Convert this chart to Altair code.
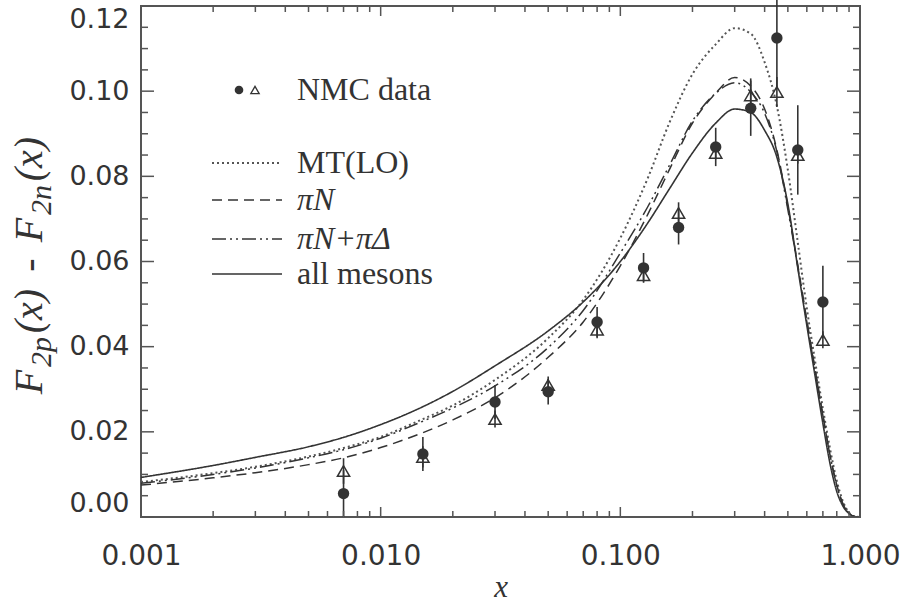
import altair as alt
import pandas as pd

# plot area size in pixels
W, H = 719, 511

# ---- model curves: F2p - F2n versus Bjorken x ----
curve_x = [0.001, 0.002, 0.003, 0.005, 0.007, 0.01, 0.015, 0.02, 0.03, 0.05,
           0.07, 0.1, 0.13, 0.16, 0.2, 0.25, 0.3, 0.35, 0.4, 0.45, 0.5, 0.55,
           0.6, 0.65, 0.7, 0.75, 0.8, 0.85, 0.9, 0.95, 1.0]
mt_lo = [0.0082, 0.0103, 0.0118, 0.0142, 0.0162, 0.0188, 0.0230, 0.0262, 0.0322,
         0.0420, 0.0510, 0.0655, 0.0795, 0.0925, 0.1040, 0.1110, 0.1148, 0.1135,
         0.1068, 0.0965, 0.0815, 0.0645, 0.0490, 0.0365, 0.0255, 0.0160, 0.0085,
         0.0036, 0.0010, 0.0001, 0.0]
pi_n = [0.0075, 0.0092, 0.0104, 0.0123, 0.0139, 0.0163, 0.0198, 0.0228, 0.0280,
        0.0375, 0.0458, 0.0590, 0.0710, 0.0815, 0.0925, 0.0995, 0.1032, 0.1012,
        0.0958, 0.0862, 0.0728, 0.0592, 0.0462, 0.0346, 0.0240, 0.0145, 0.0075,
        0.0030, 0.0009, 0.0001, 0.0]
pi_n_pi_delta = [0.0079, 0.0100, 0.0115, 0.0139, 0.0158, 0.0185, 0.0225, 0.0256,
                 0.0308, 0.0398, 0.0485, 0.0620, 0.0728, 0.0825, 0.0930, 0.0995,
                 0.1020, 0.0998, 0.0948, 0.0858, 0.0722, 0.0588, 0.0458, 0.0343,
                 0.0238, 0.0144, 0.0074, 0.0030, 0.0009, 0.0001, 0.0]
all_mesons = [0.0093, 0.0121, 0.0140, 0.0165, 0.0187, 0.0217, 0.0259, 0.0295,
              0.0355, 0.0437, 0.0505, 0.0600, 0.0690, 0.0770, 0.0855, 0.0925,
              0.0958, 0.0950, 0.0908, 0.0845, 0.0735, 0.0585, 0.0450, 0.0330,
              0.0220, 0.0125, 0.0060, 0.0025, 0.0008, 0.0001, 0.0]

# ---- NMC measurements (two analyses: circles and triangles) ----
nmc_x = [0.007, 0.015, 0.030, 0.050, 0.080, 0.125, 0.175, 0.25, 0.35, 0.45, 0.55, 0.70]
circle_y = [0.0055, 0.0148, 0.0270, 0.0294, 0.0458, 0.0585, 0.0680, 0.0869,
            0.0960, 0.1125, 0.0862, 0.0505]
circle_err = [0.0055, 0.0040, 0.0040, 0.0030, 0.0035, 0.0035, 0.0040, 0.0045,
              0.0065, 0.0120, 0.0105, 0.0085]
tri_y = [0.0108, 0.0141, 0.0230, 0.0310, 0.0440, 0.0568, 0.0714, 0.0855,
         0.0990, 0.0998, 0.0850, 0.0416]
tri_err = [0.0030, 0.0025, 0.0020, 0.0020, 0.0020, 0.0015, 0.0025, 0.0015,
           0.0040, 0.0035, 0.0020, 0.0020]

# ---- axis tick positions ----
x_major = [0.001, 0.01, 0.1, 1.0]
x_minor = [m * 10.0 ** e for e in (-3, -2, -1) for m in range(2, 10)]
y_major = [0.0, 0.02, 0.04, 0.06, 0.08, 0.10, 0.12]
y_minor = [0.005, 0.010, 0.015, 0.025, 0.030, 0.035, 0.045, 0.050, 0.055,
           0.065, 0.070, 0.075, 0.085, 0.090, 0.095, 0.105, 0.110, 0.115]

legend_labels = ["NMC data", "MT(LO)", "\u03c0N", "\u03c0N+\u03c0\u0394", "all mesons"]

# y-axis title pieces: F_{2p}(x) - F_{2n}(x), subscripts set smaller and lowered
ytitle_pieces = ["F", "2p", "(x)", "-", "F", "2n", "(x)"]

INK = "#333333"
FRAME = "#555555"
SERIF = "Liberation Serif"

xs = alt.Scale(type="log", domain=[0.001, 1.0], nice=False)
ys = alt.Scale(domain=[0.0, 0.12], nice=False, zero=False)

x_axis = alt.Axis(values=x_major, format=".3f", ticks=False, domain=False, grid=False,
                  labelFont="DejaVu Sans", labelFontSize=28, labelColor=INK,
                  labelPadding=25, labelFlush=False, labelOverlap=False,
                  title="x", titleFont=SERIF, titleFontStyle="italic",
                  titleFontWeight="normal", titleFontSize=31, titleColor=INK,
                  titlePadding=2)
y_axis = alt.Axis(values=y_major, format=".2f", ticks=False, domain=False, grid=False,
                  labelFont="DejaVu Sans", labelFontSize=27, labelColor=INK,
                  labelPadding=12, labelFlush=True, labelFlushOffset=0,
                  labelOverlap=False, title="")

X = alt.X("x:Q", scale=xs, axis=x_axis)
Y = alt.Y("y:Q", scale=ys, axis=y_axis)

layers = []

# model curves
curve_styles = [
    (mt_lo, [2, 3], 2.0, "#555555"),
    (pi_n, [10, 6], 1.5, INK),
    (pi_n_pi_delta, [14, 4, 2, 4, 2, 4], 1.5, INK),
    (all_mesons, [1, 0], 1.6, INK),
]
for values, dash, width, color in curve_styles:
    df = pd.DataFrame({"x": curve_x, "y": values})
    layers.append(
        alt.Chart(df).mark_line(strokeDash=dash, strokeWidth=width, color=color,
                                interpolate="monotone", clip=True)
        .encode(x=X, y=Y)
    )

pts = pd.DataFrame({
    "x": nmc_x,
    "cy": circle_y, "clo": [a - b for a, b in zip(circle_y, circle_err)],
    "chi": [a + b for a, b in zip(circle_y, circle_err)],
    "ty": tri_y, "tlo": [a - b for a, b in zip(tri_y, tri_err)],
    "thi": [a + b for a, b in zip(tri_y, tri_err)],
})

# error bars
layers.append(alt.Chart(pts).mark_rule(color=INK, strokeWidth=1.6)
              .encode(x=X, y=alt.Y("tlo:Q", scale=ys, axis=y_axis), y2="thi:Q"))
layers.append(alt.Chart(pts).mark_rule(color=INK, strokeWidth=1.6)
              .encode(x=X, y=alt.Y("clo:Q", scale=ys, axis=y_axis), y2="chi:Q"))
# open triangles, then filled circles on top
layers.append(alt.Chart(pts).mark_point(shape="triangle-up", filled=False, size=150,
                                        color=INK, strokeWidth=1.5, opacity=1)
              .encode(x=X, y=alt.Y("ty:Q", scale=ys, axis=y_axis)))
layers.append(alt.Chart(pts).mark_point(shape="circle", filled=True, size=130,
                                        color=INK, opacity=1)
              .encode(x=X, y=alt.Y("cy:Q", scale=ys, axis=y_axis)))


# inward ticks on all four sides of the frame
def xticks(vals, length):
    df = pd.DataFrame({"x": vals})
    bottom = alt.Chart(df).mark_rule(color=FRAME, strokeWidth=1.5).encode(
        x=X, y=alt.value(H), y2=alt.value(H - length))
    top = alt.Chart(df).mark_rule(color=FRAME, strokeWidth=1.5).encode(
        x=X, y=alt.value(0), y2=alt.value(length))
    return [bottom, top]


def yticks(vals, length):
    df = pd.DataFrame({"y": vals})
    left = alt.Chart(df).mark_rule(color=FRAME, strokeWidth=1.5).encode(
        y=Y, x=alt.value(0), x2=alt.value(length))
    right = alt.Chart(df).mark_rule(color=FRAME, strokeWidth=1.5).encode(
        y=Y, x=alt.value(W), x2=alt.value(W - length))
    return [left, right]


layers += xticks(x_major, 10) + xticks(x_minor, 6)
layers += yticks(y_major, 13) + yticks(y_minor, 7)

# rotated y-axis title built from pieces (position along the axis, size, style, column)
title_layout = [
    (376, 40, "italic", -111),
    (346, 30, "italic", -99),
    (305, 40, "italic", -111),
    (259, 40, "normal", -111),
    (224, 40, "italic", -111),
    (194, 30, "italic", -99),
    (153, 40, "italic", -111),
]
for piece, (py, fs, style, px) in zip(ytitle_pieces, title_layout):
    layers.append(
        alt.Chart(pd.DataFrame({"t": [piece]})).mark_text(
            font=SERIF, fontSize=fs, fontStyle=style, angle=270, align="center",
            baseline="middle", color=INK)
        .encode(x=alt.value(px), y=alt.value(py), text="t:N")
    )

# legend block
LEG_SIZE = 32
text_x = 156
line_x0, line_x1 = 71, 141
rows_y = [84, 157, 194, 233, 268]
label_styles = ["normal", "normal", "italic", "italic", "normal"]
dashes = [[2, 3], [10, 6], [14, 4, 2, 4, 2, 4], [1, 0]]
dash_colors = ["#555555", INK, INK, INK]
dash_widths = [2.0, 1.5, 1.5, 1.6]

for label, ry, style in zip(legend_labels, rows_y, label_styles):
    layers.append(
        alt.Chart(pd.DataFrame({"t": [label]})).mark_text(
            font=SERIF, fontSize=LEG_SIZE, fontStyle=style, align="left",
            baseline="middle", color=INK)
        .encode(x=alt.value(text_x), y=alt.value(ry), text="t:N")
    )
for i, ry in enumerate(rows_y[1:]):
    layers.append(
        alt.Chart(pd.DataFrame({"t": [legend_labels[i + 1]]})).mark_rule(
            strokeDash=dashes[i], strokeWidth=dash_widths[i], color=dash_colors[i])
        .encode(x=alt.value(line_x0), x2=alt.value(line_x1), y=alt.value(ry))
    )
marker_df = pd.DataFrame({"t": [legend_labels[0]]})
layers.append(alt.Chart(marker_df).mark_point(shape="circle", filled=True, size=75,
                                              color=INK, opacity=1)
              .encode(x=alt.value(98), y=alt.value(rows_y[0])))
layers.append(alt.Chart(marker_df).mark_point(shape="triangle-up", filled=False, size=70,
                                              color=INK, strokeWidth=1.3, opacity=1)
              .encode(x=alt.value(114), y=alt.value(rows_y[0])))

chart = (
    alt.layer(*layers)
    .properties(width=W, height=H,
                padding={"left": 141, "top": 6, "right": 46, "bottom": 85},
                autosize=alt.AutoSizeParams(type="none"),
                background="white")
    .configure_view(stroke=FRAME, strokeWidth=2)
)

chart.save("out.html", embed_options={"renderer": "svg", "actions": False})
